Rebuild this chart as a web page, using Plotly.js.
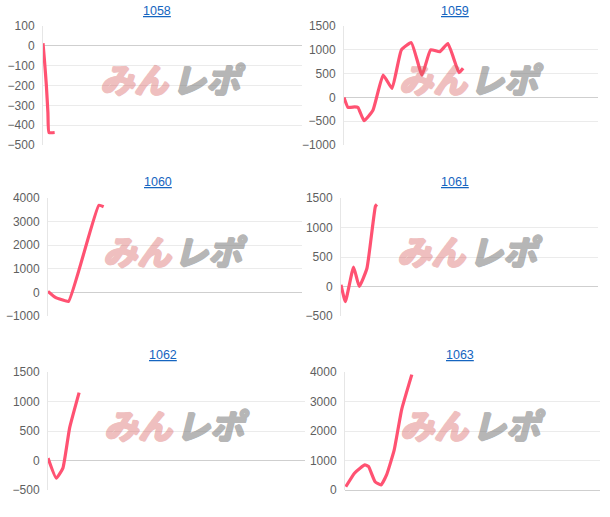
<!DOCTYPE html>
<html><head><meta charset="utf-8">
<script src="https://cdn.plot.ly/plotly-3.0.1.min.js"></script>
<style>html,body{margin:0;padding:0;background:#fff}#c{width:610px;height:517px}</style>
</head><body><div id="c"></div>
<script>
// Machine numbers (panel titles)
const titles = ["1058", "1059", "1060", "1061", "1062", "1063"];

// Series: x = progress position (0..100 of axis), y = difference in coins
const x1058 = [0, 0.6, 1.3, 1.9, 2.3, 4.5];
const y1058 = [13, -78, -200, -337, -437, -437];

const x1059 = [0, 1.6, 4.2, 5.5, 7.9, 11.4, 15.4, 18.9, 22.6, 26.5, 30.7, 34.1, 37.7, 40.9, 45.3, 46.9];
const y1059 = [0, -210, -200, -210, -490, -270, 470, 190, 1000, 1150, 470, 1000, 960, 1130, 520, 610];

const x1060 = [0, 2.9, 5.5, 8.1, 20.0, 21.9];
const y1060 = [45, -210, -310, -380, 3690, 3630];

const x1061 = [0, 1.7, 4.9, 7.1, 10.1, 13.4, 14.0];
const y1061 = [30, -255, 330, 0, 310, 1360, 1390];

const x1062 = [0, 3.2, 5.8, 8.4, 12.1];
const y1062 = [40, -300, -130, 550, 1150];

const x1063 = [0.3, 3.7, 5.9, 7.8, 9.2, 11.8, 14.1, 16.3, 19.3, 22.2, 26.2];
const y1063 = [110, 570, 740, 850, 800, 280, 170, 510, 1360, 2720, 3910];

// Y axis tick ranges
const yRanges = [[-500, 100], [-1000, 1500], [-1000, 4000], [-500, 1500], [-500, 1500], [0, 4000]];
const yDticks = [100, 500, 1000, 500, 500, 1000];

const xs = [x1058, x1059, x1060, x1061, x1062, x1063];
const ys = [y1058, y1059, y1060, y1061, y1062, y1063];

// layout geometry (pixels)
const W = 610, H = 517;
const boxes = [
  {l: 43, r: 302, t: 26, b: 145, tx: 157, ty: 11},
  {l: 344, r: 598, t: 26, b: 145, tx: 455, ty: 11},
  {l: 48, r: 302, t: 198, b: 316, tx: 158, ty: 182},
  {l: 341, r: 598, t: 198, b: 316, tx: 455, ty: 182},
  {l: 48, r: 305, t: 372, b: 490, tx: 163, ty: 355},
  {l: 345, r: 600, t: 372, b: 490, tx: 460, ty: 355}
];

const lineColor = '#ff5272';
const font = {family: 'Liberation Sans, Arial, sans-serif', size: 11, color: '#666'};
const data = [];
const layout = {
  width: W, height: H, margin: {l: 0, r: 0, t: 0, b: 0},
  paper_bgcolor: '#fff', plot_bgcolor: '#fff', showlegend: false,
  font: font, annotations: []
};

function thick(c) {
  return ['1px 0 0 ', '-1px 0 0 ', '0 1px 0 ', '0 -1px 0 ', '1px 1px 0 ', '-1px -1px 0 '].map(s => s + c).join(', ');
}
const pink = 'rgb(215,90,90)', gray = 'rgb(130,130,130)';

boxes.forEach((b, i) => {
  const n = i === 0 ? '' : String(i + 1);
  data.push({
    x: xs[i], y: ys[i], xaxis: 'x' + n, yaxis: 'y' + n,
    type: 'scatter', mode: 'lines',
    line: {color: lineColor, width: 3.2, shape: 'spline', smoothing: 0.4},
    hoverinfo: 'skip'
  });
  layout['xaxis' + n] = {
    domain: [b.l / W, b.r / W], range: [0, 100], showgrid: false, zeroline: false,
    showticklabels: false, showline: false, anchor: 'y' + n, fixedrange: true
  };
  layout['yaxis' + n] = {
    domain: [1 - b.b / H, 1 - b.t / H], range: yRanges[i], dtick: yDticks[i], tick0: 0,
    showgrid: true, gridcolor: '#ebebeb', gridwidth: 1,
    zeroline: true, zerolinecolor: '#cfcfcf', zerolinewidth: 1,
    showline: true, linecolor: '#e6e6e6', linewidth: 1,
    ticks: '', ticklabelstandoff: 5, tickfont: {family: font.family, size: 12, color: '#5f5f5f'},
    anchor: 'x' + n, fixedrange: true
  };
  layout.annotations.push({
    text: '<u>' + titles[i] + '</u>', xref: 'paper', yref: 'paper',
    x: b.tx / W, y: 1 - b.ty / H, xanchor: 'center', yanchor: 'middle', showarrow: false,
    font: {family: font.family, size: 12.5, color: '#1565c0'}
  });
  // watermark logo
  layout.annotations.push({
    text: 'みん', xref: 'x' + n + ' domain', yref: 'y' + n + ' domain', x: 0.5, y: 0.5,
    xshift: -38, yshift: 7, xanchor: 'center', yanchor: 'middle', showarrow: false, opacity: 0.38,
    font: {family: 'Noto Sans CJK JP', size: 34, weight: 'bold', style: 'italic', color: pink, shadow: thick(pink)}
  });
  layout.annotations.push({
    text: 'レポ', xref: 'x' + n + ' domain', yref: 'y' + n + ' domain', x: 0.5, y: 0.5,
    xshift: 36, yshift: 7, xanchor: 'center', yanchor: 'middle', showarrow: false, opacity: 0.58,
    font: {family: 'Noto Sans CJK JP', size: 34, weight: 'bold', style: 'italic', color: gray, shadow: thick(gray)}
  });
});

Plotly.newPlot('c', data, layout, {staticPlot: true, displayModeBar: false});
</script></body></html>
